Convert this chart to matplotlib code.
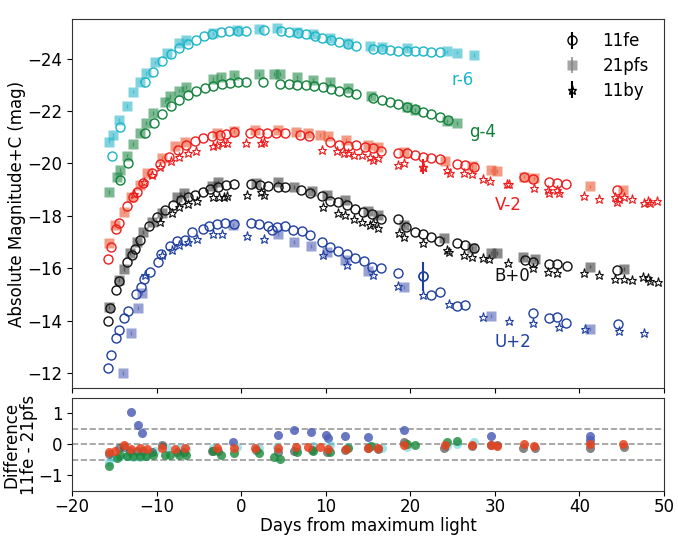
import numpy as np
import matplotlib
matplotlib.use('Agg')
import matplotlib.pyplot as plt

plt.rcParams['font.size'] = 12

# ---------------- data ----------------
# r band (offset -6)
r_fe_day = [-15.3, -14.3, -11.4, -10.4, -9.3, -8.3, -7.3, -6.3, -5.3, -4.35, -3.4, -2.4, -1.4, -0.4, 0.6,
            2.7, 4.7, 5.7, 6.7, 7.7, 8.7, 9.6, 10.6, 11.6, 12.6, 13.6, 15.6, 16.6, 17.6, 18.6, 19.6,
            20.6, 21.5, 22.5, 23.5]
r_fe_mag = [-20.28, -21.4, -23.1, -23.5, -23.9, -24.17, -24.39, -24.56, -24.71, -24.86, -24.94, -25.0,
            -25.05, -25.06, -25.06, -25.08, -25.05, -25.0, -24.97, -24.92, -24.87, -24.78, -24.7, -24.62,
            -24.56, -24.48, -24.35, -24.35, -24.33, -24.3, -24.3, -24.28, -24.27, -24.26, -24.26]
r_pfs_day = [-15.6, -15.2, -14.5, -13.5, -12.75, -12.0, -11.25, -10.2, -8.8, -7.4, -6.5, -3.3, -0.5, 2.15,
             4.2, 6.6, 8.5, 10.5, 12.6, 15.2, 16.6, 19.6, 24.3, 25.5, 27.5]
r_pfs_mag = [-20.83, -21.08, -21.66, -22.19, -22.74, -23.12, -23.44, -23.85, -24.2, -24.58, -24.71, -24.96,
             -25.09, -25.13, -25.17, -25.03, -24.93, -24.78, -24.6, -24.48, -24.46, -24.39, -24.27, -24.23,
             -24.14]
r_diff = [-0.57, -0.42, -0.42, -0.38, -0.4, -0.42, -0.38, -0.22, -0.13, -0.13, -0.15, -0.13, -0.08, -0.12,
          -0.08, -0.12, -0.05, -0.02, -0.08, -0.05, -0.1, -0.08, -0.05, 0.03, 0.09]

# g band (offset -4)
g_fe_day = [-14.3, -13.35, -11.4, -10.3, -9.3, -8.3, -7.3, -6.3, -5.3, -4.3, -3.3, -2.3, -1.3, -0.35, 0.6,
            2.6, 4.6, 5.7, 6.65, 7.67, 8.65, 9.64, 10.6, 11.6, 12.6, 13.6, 15.6, 16.6, 17.6, 18.6, 19.6,
            20.6, 21.5, 22.5, 23.5, 24.5]
g_fe_mag = [-19.37, -20.03, -21.15, -21.53, -21.89, -22.19, -22.42, -22.6, -22.78, -22.88, -22.95, -23.04,
            -23.08, -23.11, -23.12, -23.1, -23.02, -23.02, -22.99, -22.98, -22.95, -22.9, -22.82, -22.77,
            -22.72, -22.63, -22.48, -22.42, -22.33, -22.25, -22.16, -22.06, -21.97, -21.88, -21.76, -21.66]
g_pfs_day = [-15.6, -14.7, -14.3, -13.5, -12.75, -12.0, -11.25, -10.4, -9.0, -8.4, -7.4, -6.5, -3.3, -2.35,
             -0.8, 2.1, 3.85, 4.6, 6.6, 8.5, 10.5, 12.6, 15.4, 19.6, 20.6, 24.3, 25.5]
g_pfs_mag = [-18.9, -19.5, -19.75, -20.3, -20.74, -21.16, -21.53, -21.93, -22.36, -22.57, -22.78, -22.92,
             -23.22, -23.31, -23.38, -23.41, -23.41, -23.41, -23.29, -23.2, -23.1, -22.88, -22.56, -22.14,
             -22.05, -21.63, -21.53]
g_diff = [-0.7, -0.45, -0.35, -0.38, -0.37, -0.37, -0.37, -0.33, -0.33, -0.33, -0.35, -0.35, -0.22, -0.35,
          -0.27, -0.26, -0.4, -0.46, -0.24, -0.22, -0.24, -0.13, -0.04, 0.03, -0.02, 0.09, 0.11]

# V band (offset -2)
V_fe_day = [-15.8, -15.4, -14.8, -14.4, -13.45, -12.8, -12.35, -11.55, -10.6, -9.6, -8.5, -7.5, -6.5, -5.5,
            -4.5, -3.5, -2.5, -1.8, -0.8, 1.1, 2.15, 3.1, 4.1, 5.2, 7.0, 8.0, 10.5, 11.6, 12.6, 13.6, 14.6,
            15.55, 16.55, 18.6, 19.6, 20.55, 21.5, 22.5, 23.5, 25.5, 26.5, 27.5, 33.5, 34.5, 36.4, 37.4,
            38.4, 44.4]
V_fe_mag = [-16.35, -16.82, -17.48, -17.74, -18.39, -18.71, -18.92, -19.24, -19.62, -19.98, -20.26, -20.51,
            -20.7, -20.85, -20.96, -21.05, -21.08, -21.12, -21.18, -21.17, -21.17, -21.17, -21.17, -21.15,
            -21.08, -21.05, -20.83, -20.7, -20.66, -20.7, -20.64, -20.58, -20.47, -20.41, -20.38, -20.32,
            -20.23, -20.19, -20.16, -19.97, -19.94, -19.86, -19.47, -19.4, -19.3, -19.24, -19.21, -19.0]
V_pfs_day = [-15.6, -14.9, -13.9, -13.05, -12.0, -11.1, -9.4, -7.8, -6.65, -2.9, -0.9, 1.6, 4.4, 6.45, 7.9,
             9.3, 10.3, 12.4, 15.0, 16.2, 19.2, 24.1, 27.3, 29.6, 30.2, 33.4, 34.6, 41.3, 45.2]
V_pfs_mag = [-16.95, -17.65, -18.16, -18.7, -19.18, -19.62, -20.2, -20.65, -20.83, -21.16, -21.24, -21.27,
             -21.28, -21.2, -21.15, -21.08, -21.03, -20.9, -20.7, -20.64, -20.45, -20.09, -19.91, -19.73,
             -19.72, -19.5, -19.44, -19.12, -19.0]
V_diff = [-0.24, -0.22, -0.02, -0.15, -0.13, -0.15, -0.13, -0.15, -0.13, -0.13, -0.1, -0.13, -0.11, -0.08,
          -0.08, -0.08, -0.15, -0.15, -0.11, -0.13, -0.02, -0.02, -0.02, -0.02, -0.05, 0.0, -0.04, 0.0, 0.0]
V_by_day = [-12.7, -11.5, -10.6, -9.6, -8.3, -7.35, -6.3, -5.3, -3.35, -2.8, -2.2, -1.7, 0.6, 2.4, 2.7, 9.6,
            11.3, 12.2, 12.6, 13.3, 14.3, 15.2, 15.6, 16.2, 18.6, 19.2, 21.5, 24.3, 24.7, 26.3, 27.3, 28.6,
            29.4, 31.4, 31.7, 34.6, 36.3, 36.4, 37.3, 37.6, 40.5, 42.35, 44.2, 44.4, 44.7, 45.3, 46.2, 47.6,
            48.1, 48.3, 49.2]
V_by_mag = [-18.85, -19.3, -19.56, -19.85, -20.1, -20.26, -20.41, -20.48, -20.66, -20.72, -20.76, -20.79,
            -20.78, -20.79, -20.8, -20.51, -20.49, -20.41, -20.38, -20.32, -20.32, -20.26, -20.13, -20.19,
            -19.94, -20.03, -19.88, -19.75, -19.65, -19.65, -19.6, -19.39, -19.33, -19.2, -19.22, -19.05,
            -19.0, -18.86, -18.98, -18.86, -18.76, -18.64, -18.73, -18.54, -18.64, -18.7, -18.63, -18.5,
            -18.57, -18.47, -18.58]

# B band (offset 0)
B_fe_day = [-15.8, -15.45, -14.8, -14.4, -13.45, -12.95, -12.5, -12.0, -10.9, -10.0, -9.0, -8.0, -7.1, -6.3,
            -5.45, -4.5, -3.7, -2.7, -1.8, -0.9, 1.2, 2.2, 3.2, 4.4, 5.2, 7.1, 8.15, 9.5, 10.5, 11.5, 12.5,
            13.5, 14.45, 15.45, 16.5, 18.6, 19.45, 20.5, 21.5, 22.45, 23.4, 25.5, 26.5, 27.5, 33.6, 34.5,
            36.4, 37.4, 38.5, 44.4]
B_fe_mag = [-14.0, -14.47, -15.18, -15.52, -16.25, -16.5, -16.72, -17.08, -17.6, -17.97, -18.22, -18.41,
            -18.62, -18.73, -18.81, -18.92, -19.01, -19.11, -19.18, -19.21, -19.21, -19.18, -19.14, -19.11,
            -19.09, -18.98, -18.88, -18.76, -18.58, -18.52, -18.41, -18.27, -18.16, -18.07, -17.87, -17.87,
            -17.56, -17.39, -17.29, -17.2, -17.05, -16.95, -16.89, -16.78, -16.31, -16.25, -16.16, -16.15,
            -16.08, -15.93]
B_pfs_day = [-15.6, -14.4, -13.85, -13.1, -12.3, -11.55, -10.6, -9.4, -7.6, -6.75, -3.4, -2.7, 1.8, 4.4,
             6.2, 8.35, 10.2, 12.3, 15.0, 16.2, 19.2, 24.0, 27.3, 29.6, 30.2, 33.3, 34.7, 41.3, 45.3]
B_pfs_mag = [-14.53, -15.55, -15.96, -16.58, -17.01, -17.39, -17.77, -18.12, -18.73, -18.86, -19.14, -19.3,
             -19.24, -19.3, -19.11, -18.96, -18.81, -18.59, -18.19, -18.03, -17.65, -17.14, -16.76, -16.59,
             -16.57, -16.42, -16.34, -16.06, -15.96]
B_diff = [-0.3, -0.11, -0.08, -0.2, -0.2, -0.2, -0.25, -0.02, -0.24, -0.24, -0.2, -0.2, -0.18, -0.24, -0.2,
          -0.18, -0.24, -0.18, -0.1, -0.15, 0.09, -0.13, -0.05, -0.02, -0.03, -0.13, -0.13, -0.11, -0.08]
B_by_day = [-9.6, -8.2, -7.3, -6.25, -5.25, -3.3, -2.6, -2.0, -1.7, 0.65, 2.4, 2.7, 9.64, 11.4, 12.3, 13.35,
            14.3, 15.25, 15.6, 16.15, 18.65, 19.2, 21.5, 24.3, 24.6, 26.3, 27.3, 28.6, 29.35, 31.5, 34.5,
            36.3, 37.4, 40.5, 42.35, 44.2, 45.3, 46.2, 47.55, 48.1, 48.3, 49.25]
B_by_mag = [-17.75, -18.1, -18.32, -18.45, -18.56, -18.71, -18.73, -18.73, -18.76, -18.79, -18.92, -18.79,
            -18.32, -18.1, -18.03, -17.87, -17.77, -17.65, -17.74, -17.52, -17.35, -17.2, -16.95, -16.69,
            -16.63, -16.5, -16.44, -16.4, -16.34, -16.21, -16.02, -15.87, -15.8, -15.8, -15.74, -15.59,
            -15.59, -15.55, -15.68, -15.62, -15.5, -15.49]

# U band (offset +2)
U_fe_day = [-15.8, -15.4, -14.8, -14.4, -13.8, -13.4, -12.45, -11.85, -11.5, -10.8, -9.8, -9.45, -8.45,
            -7.6, -6.6, -5.85, -4.5, -3.8, -2.85, -1.9, -0.85, 1.15, 2.15, 3.15, 3.6, 4.2, 5.2, 6.15, 7.15,
            8.15, 9.55, 10.5, 11.5, 12.5, 13.5, 14.5, 15.5, 16.5, 18.6, 21.5, 22.5, 23.5, 25.5, 26.5, 34.5,
            36.4, 37.4, 38.4, 44.5]
U_fe_mag = [-12.2, -12.69, -13.32, -13.64, -14.09, -14.38, -15.02, -15.27, -15.58, -15.87, -16.25, -16.54,
            -16.84, -17.03, -17.08, -17.37, -17.5, -17.63, -17.7, -17.71, -17.7, -17.71, -17.68, -17.62,
            -17.46, -17.58, -17.62, -17.46, -17.43, -17.27, -17.01, -16.82, -16.67, -16.56, -16.38, -16.29,
            -16.03, -15.99, -15.8, -15.7, -14.99, -15.1, -14.56, -14.58, -14.3, -14.09, -14.13, -13.92,
            -13.87]
U_pfs_day = [-14.0, -13.06, -12.2, -11.7, -1.0, 4.4, 6.3, 8.2, 10.2, 12.3, 15.0, 19.2, 29.5, 41.3]
U_pfs_mag = [-12.0, -13.54, -14.47, -15.06, -17.65, -17.3, -17.01, -16.85, -16.61, -16.3, -15.89, -15.29,
             -14.19, -13.67]
U_diff_day = [-13.06, -12.2, -11.7, -1.0, 4.4, 6.3, 8.2, 10.0, 10.3, 12.3, 15.0, 19.2, 29.5, 41.3, 41.3]
U_diff = [1.04, 0.63, 0.38, 0.07, 0.3, 0.47, 0.39, 0.3, 0.22, 0.28, 0.25, 0.47, 0.28, 0.28, 0.14]
U_by_day = [-11.35, -9.3, -8.2, -7.3, -6.25, -5.25, -3.3, -2.3, 0.65, 2.7, 9.64, 12.55, 15.6, 18.6, 21.5,
            24.6, 28.6, 31.65, 34.55, 37.6, 40.6, 44.65, 47.6]
U_by_mag = [-15.74, -16.5, -16.71, -16.87, -17.01, -17.12, -17.31, -17.31, -17.22, -17.1, -16.5, -16.12,
            -15.74, -15.33, -14.98, -14.65, -14.15, -14.0, -13.9, -13.74, -13.67, -13.6, -13.51]

# points with visible error bars
err_fe_day, err_fe_mag, err_fe = [21.5], [-15.7], [0.55]
err_by_day, err_by_mag, err_by = [21.5], [-19.88], [0.3]

# colours: (11fe / 11by, 21pfs, difference)
c_r = ('#1ab6c8', '#17b0c4', '#48c8d6')
c_g = ('#11803a', '#11803a', '#1a8a3c')
c_V = ('#ee1c1c', '#e84a22', '#e8431e')
c_B = ('#111111', '#2a2a2a', '#333333')
c_U = ('#1f3f9f', '#4455b0', '#5060b8')

band_labels = ['r-6', 'g-4', 'V-2', 'B+0', 'U+2']
label_pos = [(26.2, -23.2), (28.6, -21.2), (31.6, -18.4), (32.1, -15.7), (32.1, -13.2)]

# ---------------- figure ----------------
fig = plt.figure(figsize=(6.78, 5.38), dpi=100)
ax = fig.add_axes([0.1062, 0.2788, 0.8732, 0.6859])
axd = fig.add_axes([0.1062, 0.0874, 0.8732, 0.1729], sharex=ax)


def draw_band(fe_d, fe_m, pfs_d, pfs_m, cols, by_d=None, by_m=None):
    ax.errorbar(pfs_d, pfs_m, yerr=0.07, fmt='s', color=cols[1], ms=7.5, mec='none',
                alpha=0.55, elinewidth=1, zorder=2)
    ax.plot(fe_d, fe_m, 'o', mfc='none', mec=cols[0], ms=6.5, mew=1.0, zorder=3)
    if by_d is not None:
        ax.plot(by_d, by_m, '*', mfc='none', mec=cols[0], ms=6.5, mew=0.8, zorder=3)


draw_band(r_fe_day, r_fe_mag, r_pfs_day, r_pfs_mag, c_r)
draw_band(g_fe_day, g_fe_mag, g_pfs_day, g_pfs_mag, c_g)
draw_band(V_fe_day, V_fe_mag, V_pfs_day, V_pfs_mag, c_V, V_by_day, V_by_mag)
draw_band(B_fe_day, B_fe_mag, B_pfs_day, B_pfs_mag, c_B, B_by_day, B_by_mag)
draw_band(U_fe_day, U_fe_mag, U_pfs_day, U_pfs_mag, c_U, U_by_day, U_by_mag)

ax.errorbar(err_fe_day, err_fe_mag, yerr=err_fe, fmt='o', mfc='none', mec=c_U[0], color=c_U[0],
            ms=6.5, elinewidth=1.5, zorder=3)
ax.errorbar(err_by_day, err_by_mag, yerr=err_by, fmt='*', mfc='none', mec=c_V[0], color=c_V[0],
            ms=6.5, elinewidth=1.5, zorder=3)

for lab, (lx, ly), col in zip(band_labels, label_pos, [c_r, c_g, c_V, c_B, c_U]):
    ax.text(lx, ly, lab, color=col[0], fontsize=12, ha='center', va='center')

# legend proxies
h1 = ax.errorbar([np.nan], [np.nan], yerr=[0.3], fmt='o', mfc='none', mec='k', color='k', ms=6.5)
h2 = ax.errorbar([np.nan], [np.nan], yerr=[0.3], fmt='s', color='gray', mec='none', ms=7, alpha=0.7)
h3 = ax.errorbar([np.nan], [np.nan], yerr=[0.3], fmt='*', mfc='none', mec='k', color='k', ms=6.5)
ax.legend([h1, h2, h3], ['11fe', '21pfs', '11by'], loc='upper right', frameon=False, fontsize=12,
          handlelength=1.2, handletextpad=1.25, borderaxespad=0.4, labelspacing=0.4,
          bbox_to_anchor=(0.997, 1.0))

ax.set_xlim(-20, 50)
ax.set_ylim(-11.43, -25.51)
ax.set_yticks(np.arange(-24, -11, 2))
ax.set_ylabel('Absolute Magnitude+C (mag)')
ax.yaxis.set_label_coords(-0.078, 0.5)
ax.tick_params(labelbottom=False)

# ---------------- difference panel ----------------
for yl in [0.5, 0.0, -0.5]:
    axd.axhline(yl, color='#999999', ls='--', lw=1.2, zorder=1)
axd.plot(U_diff_day, U_diff, 'o', color=c_U[2], ms=6.5, mec='none', alpha=0.85, zorder=2)
axd.plot(r_pfs_day, r_diff, 'o', color=c_r[2], ms=6.5, mec='none', alpha=0.5, zorder=2)
axd.plot(B_pfs_day, B_diff, 'o', color=c_B[2], ms=6.5, mec='none', alpha=0.6, zorder=3)
axd.plot(g_pfs_day, g_diff, 'o', color=c_g[2], ms=6.5, mec='none', alpha=0.8, zorder=3)
axd.plot(V_pfs_day, V_diff, 'o', color=c_V[2], ms=6.5, mec='none', alpha=0.85, zorder=4)

axd.set_ylim(-1.5, 1.5)
axd.set_yticks([-1, 0, 1])
axd.set_xticks(np.arange(-20, 51, 10))
axd.tick_params(axis='x', pad=1.5)
axd.set_xlabel('Days from maximum light', labelpad=1)
axd.set_ylabel('Difference\n11fe - 21pfs', linespacing=1.0)
axd.yaxis.set_label_coords(-0.0574, 0.5)

for a in (ax, axd):
    for s in a.spines.values():
        s.set_color('#333333')

fig.savefig('out.png', dpi=100)
